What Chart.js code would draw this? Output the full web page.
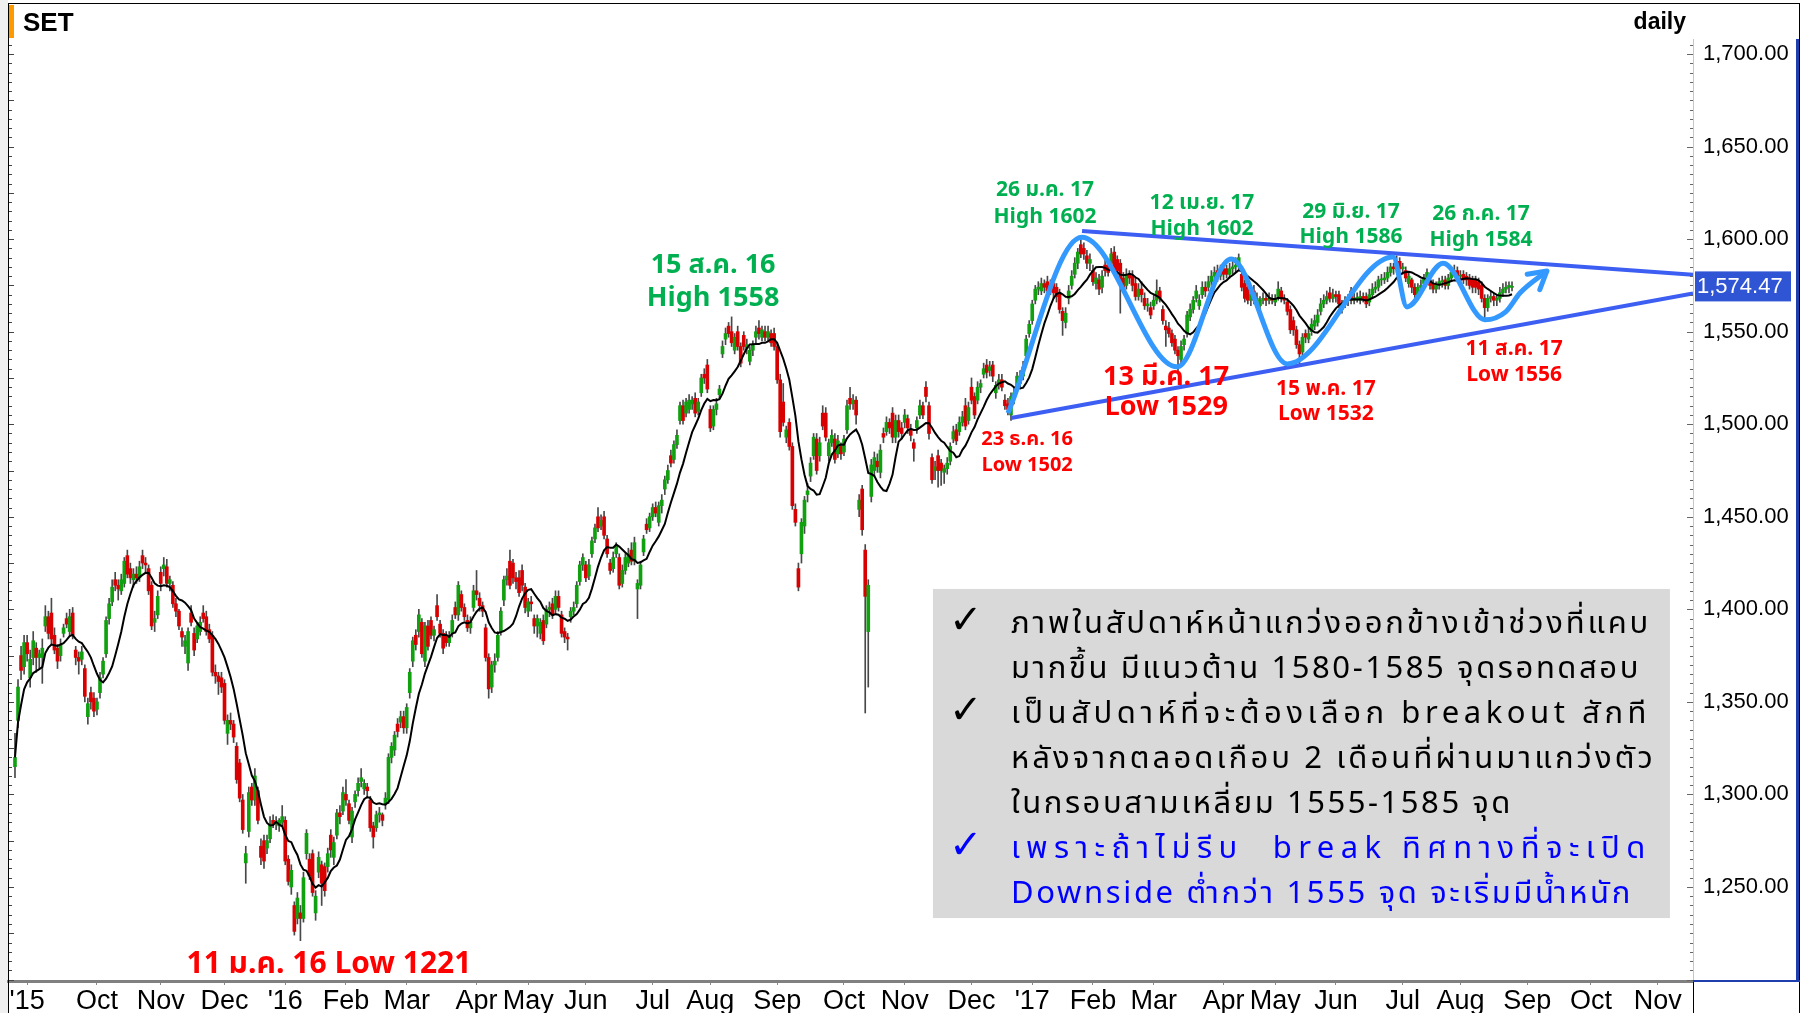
<!DOCTYPE html>
<html lang="th">
<head>
<meta charset="UTF-8" />
<title>SET daily</title>
<script src="https://cdn.jsdelivr.net/npm/chart.js"></script>
<style>
  html, body { margin: 0; padding: 0; background: #fff; }
</style>
</head>
<body>
<canvas id="setChart" width="1810" height="1013"></canvas>
<script>
// one candle per trading day, index 0 = late Aug 2015, last = 25 Aug 2017
const opens = [
  1315,1340,1375,1369,1382,1363,1374,1379,1374,1374, 1391,1396,1398,1386,1379,1375,1387,1395,1388,1398,
  1378,1374,1373,1368,1342,1355,1352,1346,1355,1365, 1376,1395,1404,1416,1413,1410,1414,1429,1422,1416,
  1419,1417,1429,1425,1422,1413,1393,1397,1420,1422, 1423,1414,1413,1403,1399,1388,1380,1371,1398,1387,
  1384,1388,1398,1396,1389,1386,1366,1364,1363,1360, 1333,1340,1338,1326,1317,1297,1263,1280,1304,1297,
  1302,1272,1275,1271,1276,1286,1284,1283,1285,1286, 1265,1250,1240,1233,1236,1233,1268,1265,1268,1236,
  1258,1262,1261,1261,1278,1266,1278,1290,1291,1300, 1295,1277,1296,1302,1307,1303,1304,1297,1283,1282,
  1289,1289,1295,1297,1320,1324,1338,1339,1342,1336, 1355,1372,1386,1388,1393,1372,1391,1394,1386,1402,
  1392,1387,1386,1382,1387,1401,1397,1408,1401,1394, 1390,1401,1410,1406,1402,1390,1374,1358,1370,1374,
  1388,1405,1416,1426,1425,1417,1417,1421,1412,1399, 1404,1395,1391,1387,1394,1392,1400,1403,1400,1407,
  1397,1388,1385,1396,1399,1403,1415,1424,1424,1418, 1430,1438,1450,1445,1450,1438,1425,1422,1430,1428,
  1414,1421,1425,1432,1426,1411,1413,1431,1446,1444, 1450,1455,1447,1456,1465,1470,1483,1481,1489,1502,
  1510,1506,1508,1511,1514,1507,1517,1527,1532,1508, 1499,1508,1516,1538,1546,1553,1550,1540,1550,1542,
  1548,1541,1534,1540,1547,1552,1547,1550,1547,1549, 1549,1542,1524,1512,1493,1501,1488,1454,1422,1430,
  1445,1462,1472,1483,1492,1483,1506,1506,1483,1490, 1492,1484,1488,1485,1497,1514,1511,1513,1454,1465,
  1432,1388,1461,1475,1480,1474,1495,1496,1501,1506, 1493,1502,1498,1501,1503,1497,1490,1498,1505,1510,
  1520,1510,1482,1475,1483,1479,1474,1476,1480,1492, 1497,1496,1501,1510,1502,1520,1515,1513,1520,1527,
  1532,1529,1532,1517,1521,1524,1513,1511,1505,1514, 1519,1522,1526,1537,1549,1556,1567,1573,1572,1576,
  1577,1572,1576,1574,1571,1561,1555,1568,1575,1581, 1587,1597,1595,1591,1587,1583,1576,1578,1574,1586,
  1586,1587,1593,1589,1587,1579,1575,1581,1580,1576, 1569,1573,1568,1564,1563,1564,1567,1572,1562,1553,
  1552,1549,1546,1540,1535,1543,1549,1558,1562,1568, 1564,1570,1574,1574,1577,1580,1583,1580,1584,1584,
  1581,1584,1585,1586,1581,1576,1574,1567,1572,1567, 1564,1567,1568,1567,1568,1566,1569,1572,1568,1566,
  1562,1556,1551,1543,1539,1549,1546,1550,1553,1555, 1561,1565,1567,1571,1568,1570,1570,1562,1565,1567,
  1572,1567,1568,1567,1569,1569,1566,1570,1573,1574, 1578,1578,1579,1582,1585,1584,1588,1584,1583,1576,
  1578,1574,1570,1574,1576,1579,1578,1576,1573,1575, 1577,1578,1575,1579,1582,1583,1580,1581,1580,1579,
  1578,1578,1577,1575,1568,1563,1568,1569,1567,1568, 1571,1573,1574,1574
];
const highs = [
  1333,1362,1380,1386,1386,1378,1388,1382,1378,1384, 1402,1399,1406,1390,1381,1384,1392,1398,1400,1401,
  1380,1377,1380,1370,1352,1358,1355,1352,1366,1374, 1396,1406,1416,1420,1416,1419,1428,1432,1425,1422,
  1423,1426,1432,1428,1424,1415,1399,1410,1423,1428, 1427,1418,1415,1406,1400,1390,1386,1390,1402,1390,
  1393,1396,1402,1399,1392,1388,1370,1366,1366,1362, 1343,1344,1340,1328,1319,1300,1272,1304,1306,1314,
  1304,1276,1278,1278,1288,1289,1288,1287,1294,1288, 1267,1262,1242,1247,1240,1258,1281,1268,1270,1248,
  1269,1264,1263,1271,1281,1277,1292,1294,1304,1308, 1297,1293,1302,1309,1314,1308,1306,1299,1285,1291,
  1293,1290,1301,1322,1328,1334,1341,1345,1345,1349, 1368,1385,1389,1400,1395,1393,1394,1396,1391,1408,
  1394,1389,1388,1388,1397,1404,1415,1410,1403,1397, 1396,1413,1421,1409,1404,1392,1376,1372,1376,1388,
  1401,1418,1422,1432,1427,1420,1421,1424,1414,1406, 1407,1397,1397,1395,1397,1402,1404,1406,1410,1410,
  1399,1390,1387,1401,1404,1415,1426,1430,1426,1427, 1439,1446,1455,1451,1453,1440,1427,1431,1436,1430,
  1424,1430,1433,1436,1439,1416,1426,1440,1449,1452, 1457,1458,1458,1462,1472,1478,1486,1491,1497,1512,
  1513,1514,1516,1515,1517,1514,1527,1530,1535,1510, 1510,1514,1521,1545,1552,1555,1558,1549,1553,1544,
  1550,1546,1542,1545,1553,1556,1553,1553,1553,1551, 1552,1544,1527,1522,1499,1503,1490,1457,1425,1449,
  1461,1468,1482,1495,1495,1493,1510,1509,1492,1497, 1495,1494,1490,1494,1513,1520,1516,1515,1462,1467,
  1435,1416,1481,1485,1484,1489,1498,1504,1503,1509, 1505,1505,1501,1508,1505,1500,1492,1504,1513,1512,
  1523,1512,1484,1480,1486,1481,1478,1482,1490,1499, 1500,1504,1507,1514,1512,1525,1517,1523,1524,1533,
  1535,1534,1534,1523,1527,1527,1516,1514,1517,1520, 1528,1529,1534,1548,1556,1567,1575,1577,1579,1578,
  1580,1578,1579,1576,1573,1563,1563,1575,1583,1590, 1595,1601,1598,1594,1592,1586,1582,1581,1583,1590,
  1589,1595,1596,1591,1589,1582,1584,1583,1583,1579, 1576,1577,1571,1568,1566,1570,1578,1574,1564,1556,
  1555,1551,1548,1542,1545,1548,1561,1565,1569,1575, 1570,1577,1577,1580,1583,1585,1586,1586,1587,1586,
  1587,1588,1590,1592,1583,1578,1576,1573,1575,1571, 1569,1571,1570,1571,1570,1570,1577,1574,1570,1568,
  1564,1558,1553,1545,1549,1551,1552,1557,1559,1562, 1568,1570,1572,1574,1573,1572,1572,1567,1569,1570,
  1574,1571,1571,1572,1571,1571,1573,1576,1577,1580, 1581,1582,1585,1587,1587,1591,1590,1587,1585,1582,
  1579,1576,1576,1578,1581,1584,1580,1578,1577,1579, 1580,1580,1581,1584,1586,1585,1583,1583,1582,1581,
  1580,1580,1579,1577,1570,1570,1572,1571,1570,1574, 1576,1577,1577,1577
];
const lows = [
  1309,1336,1362,1365,1372,1358,1370,1366,1368,1360, 1388,1384,1381,1376,1368,1372,1385,1390,1386,1384,
  1370,1365,1370,1350,1338,1346,1342,1343,1352,1363, 1374,1392,1402,1410,1405,1408,1412,1417,1414,1412,
  1414,1415,1422,1420,1408,1389,1388,1395,1410,1418, 1412,1410,1401,1396,1389,1380,1376,1367,1391,1375,
  1382,1386,1393,1386,1382,1364,1360,1354,1355,1338, 1327,1335,1328,1306,1296,1279,1252,1277,1294,1294,
  1284,1262,1260,1268,1274,1282,1281,1280,1283,1262, 1251,1246,1224,1230,1221,1231,1265,1254,1245,1232,
  1255,1240,1245,1258,1266,1262,1276,1284,1289,1294, 1284,1274,1293,1299,1304,1300,1298,1280,1271,1280,
  1285,1283,1292,1295,1317,1321,1331,1336,1333,1333, 1352,1369,1378,1385,1374,1369,1378,1384,1383,1394,
  1385,1376,1380,1380,1385,1395,1394,1399,1394,1388, 1387,1399,1405,1399,1396,1372,1352,1355,1366,1372,
  1386,1402,1413,1411,1414,1411,1407,1410,1398,1396, 1399,1387,1385,1384,1381,1390,1396,1395,1398,1399,
  1385,1382,1378,1393,1397,1401,1413,1421,1415,1416, 1428,1436,1442,1443,1438,1428,1419,1420,1428,1411,
  1412,1419,1423,1424,1424,1395,1411,1429,1441,1442, 1448,1450,1445,1452,1462,1468,1477,1479,1487,1500,
  1500,1504,1506,1508,1504,1505,1515,1522,1517,1496, 1497,1505,1514,1536,1543,1547,1542,1538,1540,1531,
  1540,1538,1532,1537,1544,1546,1545,1545,1545,1542, 1540,1522,1493,1499,1490,1486,1454,1445,1410,1425,
  1441,1458,1469,1481,1473,1480,1497,1491,1480,1488, 1479,1482,1481,1483,1495,1508,1508,1500,1450,1440,
  1344,1358,1458,1472,1474,1471,1490,1494,1495,1490, 1490,1493,1492,1498,1495,1491,1480,1495,1503,1503,
  1512,1492,1468,1470,1466,1467,1468,1473,1478,1490, 1489,1494,1499,1497,1500,1511,1503,1511,1517,1525,
  1525,1526,1523,1514,1519,1518,1508,1505,1502,1511, 1517,1520,1524,1535,1547,1554,1565,1570,1570,1571,
  1569,1570,1568,1566,1560,1548,1552,1565,1573,1579, 1584,1590,1589,1584,1583,1575,1573,1570,1571,1580,
  1580,1585,1581,1580,1560,1571,1573,1576,1572,1567, 1567,1566,1562,1561,1557,1562,1565,1566,1554,1542,
  1547,1542,1538,1529,1533,1540,1547,1556,1560,1566, 1562,1568,1569,1572,1575,1578,1577,1578,1578,1579,
  1579,1581,1582,1584,1572,1566,1565,1564,1565,1565, 1562,1565,1564,1565,1565,1564,1567,1566,1565,1559,
  1549,1548,1541,1532,1536,1544,1544,1548,1551,1553, 1559,1563,1565,1566,1566,1566,1563,1560,1563,1564,
  1565,1565,1566,1565,1566,1563,1564,1568,1571,1572, 1575,1576,1577,1580,1581,1582,1582,1581,1577,1574,
  1571,1568,1569,1572,1574,1577,1573,1571,1571,1573, 1574,1573,1573,1577,1580,1578,1577,1576,1575,1573,
  1571,1571,1570,1566,1556,1561,1566,1564,1564,1566, 1569,1571,1571,1572
];
const closes = [
  1320,1358,1367,1382,1376,1373,1383,1374,1376,1379, 1396,1387,1384,1378,1372,1381,1390,1392,1396,1386,
  1374,1372,1377,1353,1349,1350,1345,1350,1363,1372, 1394,1403,1412,1413,1411,1416,1426,1419,1417,1419,
  1417,1423,1425,1424,1410,1391,1395,1407,1414,1424, 1414,1416,1403,1399,1391,1385,1383,1388,1393,1378,
  1391,1393,1395,1388,1384,1366,1364,1361,1358,1340, 1340,1338,1331,1308,1298,1281,1268,1301,1297,1310,
  1286,1266,1264,1275,1284,1284,1285,1286,1288,1264, 1253,1259,1226,1244,1233,1255,1279,1256,1247,1245,
  1266,1252,1248,1268,1270,1274,1290,1288,1301,1297, 1286,1291,1300,1306,1309,1306,1302,1282,1277,1289,
  1290,1286,1298,1320,1326,1332,1334,1342,1336,1347, 1366,1383,1381,1397,1376,1391,1380,1386,1389,1396,
  1387,1379,1382,1385,1394,1397,1413,1401,1396,1390, 1393,1410,1408,1402,1399,1374,1357,1370,1372,1386,
  1399,1416,1418,1413,1417,1415,1409,1413,1401,1404, 1403,1391,1395,1393,1383,1400,1401,1397,1407,1401,
  1387,1385,1384,1399,1401,1413,1424,1428,1417,1424, 1437,1444,1444,1448,1440,1430,1421,1428,1434,1413,
  1421,1428,1430,1426,1436,1414,1424,1438,1443,1450, 1455,1452,1456,1459,1470,1475,1479,1489,1494,1510,
  1502,1512,1513,1513,1506,1512,1525,1525,1519,1498, 1508,1511,1519,1542,1549,1549,1544,1547,1542,1533,
  1542,1543,1540,1543,1550,1549,1551,1547,1550,1544, 1542,1524,1496,1501,1497,1488,1456,1447,1412,1447,
  1459,1464,1479,1493,1475,1490,1499,1493,1490,1494, 1481,1491,1484,1492,1510,1511,1513,1505,1459,1443,
  1407,1413,1478,1482,1477,1486,1493,1501,1498,1493, 1502,1496,1495,1505,1498,1494,1487,1502,1510,1505,
  1515,1495,1470,1477,1475,1475,1476,1479,1488,1496, 1491,1501,1504,1499,1509,1513,1505,1520,1522,1530,
  1528,1531,1526,1521,1524,1520,1510,1508,1515,1517, 1526,1526,1531,1546,1554,1565,1573,1574,1576,1574,
  1572,1575,1571,1569,1562,1556,1560,1572,1580,1587, 1593,1592,1592,1587,1589,1577,1579,1573,1580,1583,
  1582,1592,1583,1583,1576,1574,1581,1579,1575,1569, 1573,1570,1564,1565,1559,1567,1572,1568,1556,1551,
  1549,1544,1540,1537,1542,1546,1559,1562,1567,1572, 1567,1574,1572,1577,1580,1582,1580,1583,1581,1581,
  1584,1585,1586,1590,1574,1568,1567,1570,1567,1568, 1567,1568,1567,1568,1567,1568,1573,1568,1567,1561,
  1551,1551,1543,1538,1547,1547,1549,1554,1556,1559, 1565,1567,1569,1568,1570,1569,1565,1565,1567,1567,
  1567,1568,1568,1569,1568,1565,1570,1573,1574,1578, 1578,1579,1582,1585,1584,1588,1584,1585,1579,1580,
  1574,1570,1574,1575,1579,1582,1575,1573,1575,1577, 1577,1575,1579,1582,1583,1580,1580,1578,1578,1575,
  1574,1574,1573,1568,1563,1568,1569,1567,1568,1571, 1573,1574,1575,1574.47
];

// x axis: trading-day index where each month starts
const monthTicks = [4, 27, 48, 69, 89, 109, 129, 152, 169, 188, 210, 229, 251, 273, 293, 315,
  335, 355, 375, 398, 415, 435, 457, 476, 498, 519, 541];
const monthLabels = ["'15", 'Oct', 'Nov', 'Dec', "'16", 'Feb', 'Mar', 'Apr', 'May', 'Jun', 'Jul', 'Aug', 'Sep',
  'Oct', 'Nov', 'Dec', "'17", 'Feb', 'Mar', 'Apr', 'May', 'Jun', 'Jul', 'Aug', 'Sep', 'Oct', 'Nov'];
const priceTicks = [1250, 1300, 1350, 1400, 1450, 1500, 1550, 1600, 1650, 1700];

// hand drawn triangle and swing path (index, price)
const upperTrendX = [351.4, 552.6];
const upperTrendY = [1604.4, 1580.7];
const lowerTrendX = [328, 552.6];
const lowerTrendY = [1503.4, 1570.6];
const waveX = [327, 351.3, 382.7, 400.5, 419, 453.8, 458.4, 470.3, 484.1, 490.9, 495.7, 504.5];
const waveY = [1506, 1601, 1531, 1589.3, 1532.6, 1590.4, 1563.4, 1587, 1556.4, 1560.7, 1571, 1582.8];

const GREEN = '#00b050';
const RED = '#ff0000';
const THAI = '"Noto Sans Thai", "Leelawadee UI", Tahoma, "Noto Sans", sans-serif';

const notes = [
  { lines: ['15 ส.ค. 16', 'High 1558'], x: 229.9, y: [1587.6, 1569.3], color: GREEN, size: 27 },
  { lines: ['26 ม.ค. 17', 'High 1602'], x: 339.2, y: [1628.1, 1613.6], color: GREEN, size: 21 },
  { lines: ['12 เม.ย. 17', 'High 1602'], x: 390.9, y: [1621.1, 1607.1], color: GREEN, size: 21 },
  { lines: ['29 มิ.ย. 17', 'High 1586'], x: 440, y: [1616.3, 1602.8], color: GREEN, size: 21 },
  { lines: ['26 ก.ค. 17', 'High 1584'], x: 482.8, y: [1615.2, 1601.1], color: GREEN, size: 21 },
  { lines: ['13 มี.ค. 17', 'Low 1529'], x: 379.1, y: [1527.1, 1510.4], color: RED, size: 27 },
  { lines: ['23 ธ.ค. 16', 'Low 1502'], x: 333.3, y: [1493.6, 1479.6], color: RED, size: 20 },
  { lines: ['15 พ.ค. 17', 'Low 1532'], x: 431.7, y: [1520.6, 1507.1], color: RED, size: 21 },
  { lines: ['11 ส.ค. 17', 'Low 1556'], x: 493.7, y: [1542.3, 1528.2], color: RED, size: 21 },
  { lines: ['11 ม.ค. 16 Low 1221'], x: 103.4, y: [1209.5], color: RED, size: 30 }
];

const commentLines = [
  { text: 'ภาพในสัปดาห์หน้าแกว่งออกข้างเข้าช่วงที่แคบ', check: true, color: '#000', right: 718 },
  { text: 'มากขึ้น มีแนวต้าน 1580-1585 จุดรอทดสอบ', check: false, color: '#000', right: 708 },
  { text: 'เป็นสัปดาห์ที่จะต้องเลือก breakout สักที', check: true, color: '#000', right: 718 },
  { text: 'หลังจากตลอดเกือบ 2 เดือนที่ผ่านมาแกว่งตัว', check: false, color: '#000', right: 723 },
  { text: 'ในกรอบสามเหลี่ยม 1555-1585 จุด', check: false, color: '#000', right: 580 },
  { text: 'เพราะถ้าไม่รีบ  break ทิศทางที่จะเปิด', check: true, color: '#0000ff', right: 719 },
  { text: 'Downside ต่ำกว่า 1555 จุด จะเริ่มมีน้ำหนัก', check: false, color: '#0000ff', right: 700 }
];
const commentBox = { x0: 302.3, x1: 545, top: 1411, bottom: 1233.2 };

function movingAverage(vals, n) {
  return vals.map((v, i) => {
    const win = vals.slice(Math.max(0, i - n + 1), i + 1);
    return win.reduce((a, b) => a + b, 0) / win.length;
  });
}

const ma10 = movingAverage(closes, 10);
const bodyColors = closes.map((c, i) => (c >= opens[i] ? '#10a010' : '#d80000'));

// spread a line of text so that it ends at the wanted width
function fillFitted(ctx, text, x, y, width) {
  ctx.letterSpacing = '0px';
  const w0 = ctx.measureText(text).width;
  ctx.letterSpacing = '1px';
  const units = Math.max(1, ctx.measureText(text).width - w0);
  ctx.letterSpacing = ((width - w0) / units).toFixed(2) + 'px';
  ctx.fillText(text, x, y);
  ctx.letterSpacing = '0px';
}

const decorations = {
  id: 'decorations',
  beforeDraw(chart) {
    const ctx = chart.ctx;
    ctx.save();
    ctx.fillStyle = '#ffffff';
    ctx.fillRect(0, 0, chart.width, chart.height);
    ctx.fillStyle = '#f0f0f0';
    ctx.fillRect(0, 0, 8, chart.height);
    ctx.restore();
  },
  afterDatasetsDraw(chart) {
    const ctx = chart.ctx;
    const xs = chart.scales.x;
    const ys = chart.scales.y;
    ctx.save();

    // arrow head at the end of the swing path
    const wave = chart.getDatasetMeta(5).data;
    const tip = wave[wave.length - 1];
    const ang = Math.atan2(tip.y - tip.cp1y, tip.x - tip.cp1x);
    ctx.strokeStyle = '#3399ff';
    ctx.lineWidth = 5;
    ctx.lineCap = 'round';
    ctx.beginPath();
    [-0.52, 0.52].forEach(d => {
      ctx.moveTo(tip.x, tip.y);
      ctx.lineTo(tip.x - 20 * Math.cos(ang + d), tip.y - 20 * Math.sin(ang + d));
    });
    ctx.stroke();

    // text notes
    ctx.textAlign = 'center';
    ctx.textBaseline = 'middle';
    notes.forEach(n => {
      ctx.fillStyle = n.color;
      ctx.font = `bold ${n.size}px ${THAI}`;
      n.lines.forEach((t, k) => ctx.fillText(t, xs.getPixelForValue(n.x), ys.getPixelForValue(n.y[k]) + 5));
    });

    // comment box
    const bx = xs.getPixelForValue(commentBox.x0);
    const bw = xs.getPixelForValue(commentBox.x1) - bx;
    const by = ys.getPixelForValue(commentBox.top);
    const bh = ys.getPixelForValue(commentBox.bottom) - by;
    ctx.fillStyle = '#d9d9d9';
    ctx.fillRect(bx, by, bw, bh);
    ctx.textAlign = 'left';
    commentLines.forEach((ln, k) => {
      const cy = by + 38 + k * 44.9;
      ctx.fillStyle = ln.color;
      if (ln.check) {
        ctx.font = 'bold 40px "DejaVu Sans", sans-serif';
        ctx.fillText('✓', bx + 16, cy - 4);
      }
      ctx.font = `31px ${THAI}`;
      fillFitted(ctx, ln.text, bx + 78, cy, ln.right - 78);
    });
    ctx.restore();
  },
  afterDraw(chart) {
    const ctx = chart.ctx;
    const ys = chart.scales.y;
    const area = chart.chartArea;
    ctx.save();

    // frame
    ctx.strokeStyle = '#000';
    ctx.lineWidth = 1;
    ctx.beginPath();
    ctx.moveTo(8.5, 4); ctx.lineTo(8.5, 1013);
    ctx.moveTo(8, 3.5); ctx.lineTo(1800, 3.5);
    ctx.moveTo(1799.5, 3); ctx.lineTo(1799.5, 1013);
    ctx.moveTo(area.right + 0.5, area.bottom); ctx.lineTo(area.right + 0.5, 1013);
    ctx.stroke();
    ctx.fillStyle = '#ff9900';
    ctx.fillRect(9, 5, 5, 33);

    // left border ticks
    ctx.strokeStyle = '#444';
    ctx.beginPath();
    for (let v = 1200; v <= 1725; v += 5) {
      const y = Math.round(ys.getPixelForValue(v)) + 0.5;
      if (y < 40) continue;
      ctx.moveTo(9, y); ctx.lineTo(v % 25 === 0 ? 14 : 12, y);
    }
    ctx.stroke();

    // right axis line and ticks
    ctx.strokeStyle = '#f2c94c';
    ctx.beginPath();
    ctx.moveTo(area.right + 0.5, 39); ctx.lineTo(area.right + 0.5, area.bottom);
    ctx.stroke();
    ctx.strokeStyle = '#666';
    ctx.beginPath();
    for (let v = 1200; v <= 1715; v += 5) {
      const y = Math.round(ys.getPixelForValue(v)) + 0.5;
      if (y < 40) continue;
      ctx.moveTo(area.right, y); ctx.lineTo(area.right - (v % 50 === 0 ? 6 : 3), y);
    }
    ctx.stroke();
    ctx.fillStyle = '#1f3fb0';
    ctx.fillRect(1796, 39, 3, area.bottom - 39);
    ctx.fillRect(area.right, area.bottom - 1, 1800 - area.right, 2);

    // last price tag
    const last = closes[closes.length - 1];
    const py = ys.getPixelForValue(last);
    ctx.fillStyle = '#2f55d4';
    ctx.fillRect(area.right + 2, py - 15, 96, 30);
    ctx.fillStyle = '#fff';
    ctx.font = '22px "Liberation Sans", Arial, sans-serif';
    ctx.textAlign = 'left';
    ctx.textBaseline = 'middle';
    ctx.fillText(last.toLocaleString('en-US', { minimumFractionDigits: 2 }), area.right + 4, py + 1);

    // titles
    ctx.fillStyle = '#000';
    ctx.font = 'bold 26px "Liberation Sans", Arial, sans-serif';
    ctx.textBaseline = 'alphabetic';
    ctx.fillText('SET', 23, 31);
    ctx.font = 'bold 23px "Liberation Sans", Arial, sans-serif';
    ctx.textAlign = 'right';
    ctx.fillText('daily', 1686, 29);
    ctx.restore();
  }
};

function noEdgePadding(s) {
  s.paddingTop = 0;
  s.paddingBottom = 0;
  s.paddingLeft = 0;
  s.paddingRight = 0;
}

const ctx = document.getElementById('setChart').getContext('2d');
new Chart(ctx, {
  type: 'bar',
  data: {
    datasets: [
      {
        label: 'wick',
        data: closes.map((c, i) => ({ x: i, y: [lows[i], highs[i]] })),
        backgroundColor: '#484848',
        barThickness: 1,
        grouped: false,
        order: 4
      },
      {
        label: 'body',
        data: closes.map((c, i) => ({ x: i, y: [opens[i], c] })),
        backgroundColor: bodyColors,
        barThickness: 3,
        minBarLength: 1,
        grouped: false,
        order: 3
      },
      {
        type: 'line',
        label: 'MA10',
        data: ma10.map((v, i) => ({ x: i, y: v })),
        borderColor: '#000',
        borderWidth: 2,
        pointRadius: 0,
        order: 2
      },
      {
        type: 'line',
        label: 'upper',
        data: upperTrendX.map((x, k) => ({ x, y: upperTrendY[k] })),
        borderColor: '#3d5ef2',
        borderWidth: 4,
        pointRadius: 0,
        order: 1
      },
      {
        type: 'line',
        label: 'lower',
        data: lowerTrendX.map((x, k) => ({ x, y: lowerTrendY[k] })),
        borderColor: '#3d5ef2',
        borderWidth: 4,
        pointRadius: 0,
        order: 1
      },
      {
        type: 'line',
        label: 'swing',
        data: waveX.map((x, k) => ({ x, y: waveY[k] })),
        borderColor: '#3399ff',
        borderWidth: 5,
        pointRadius: 0,
        cubicInterpolationMode: 'monotone',
        order: 0
      }
    ]
  },
  options: {
    responsive: false,
    animation: false,
    events: [],
    layout: { padding: { left: 8, top: 5, right: 10, bottom: 0 } },
    plugins: { legend: { display: false }, tooltip: { enabled: false } },
    scales: {
      x: {
        type: 'linear',
        min: -2.3,
        max: 552.6,
        offset: false,
        afterBuildTicks: s => { s.ticks = monthTicks.map(v => ({ value: v })); },
        afterFit: s => { s.height = 32; noEdgePadding(s); },
        ticks: {
          autoSkip: false,
          maxRotation: 0,
          padding: 0,
          color: '#000',
          font: { family: "'Liberation Sans Narrow', 'Arial Narrow', sans-serif", size: 27 },
          callback: (v, idx) => monthLabels[idx]
        },
        grid: { drawOnChartArea: false, offset: false, tickLength: 4, color: '#888' },
        border: { display: true, color: '#808080', width: 3 }
      },
      y: {
        type: 'linear',
        position: 'right',
        min: 1199.2,
        max: 1726.5,
        afterBuildTicks: s => { s.ticks = priceTicks.map(v => ({ value: v })); },
        afterFit: s => { s.width = 107; noEdgePadding(s); },
        ticks: {
          padding: 10,
          color: '#000',
          font: { family: "'Liberation Sans', Arial, sans-serif", size: 22 },
          callback: v => v.toLocaleString('en-US', { minimumFractionDigits: 2, maximumFractionDigits: 2 })
        },
        grid: { drawOnChartArea: false, drawTicks: false },
        border: { display: false }
      }
    }
  },
  plugins: [decorations]
});
</script>
</body>
</html>
